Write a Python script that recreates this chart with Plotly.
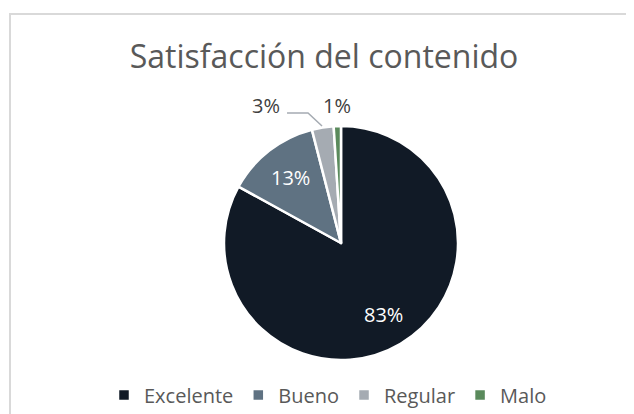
import math
import plotly.graph_objects as go

categories = ["Excelente", "Bueno", "Regular", "Malo"]
values = [83, 13, 3, 1]
colors = ["#111a26", "#5f7282", "#a5abb2", "#5a8a5c"]

W, H = 634, 414
OFF = 8  # page body margin offset
cx, cy, r = 341 - OFF, 243 - OFF, 117

def px(x):
    return (x - OFF) / W

def py(y):
    return 1 - (y - OFF) / H

total = sum(values)
pct = [f"{round(v * 100 / total)}%" for v in values]

fig = go.Figure(go.Pie(
    labels=categories,
    values=values,
    sort=False,
    direction="clockwise",
    rotation=0,
    marker=dict(colors=colors, line=dict(color="#ffffff", width=2.5)),
    textinfo="none",
    domain=dict(x=[(cx - r) / W, (cx + r) / W], y=[1 - (cy + r) / H, 1 - (cy - r) / H]),
    automargin=False,
    showlegend=True,
))

annotations = []
# inside labels for the two big slices, placed at the slice mid-angle
cum = 0
for i, v in enumerate(values):
    mid = (cum + v / 2) / total * 2 * math.pi
    cum += v
    if i < 2:
        lx = cx + OFF + 0.71 * r * math.sin(mid)
        ly = cy + OFF - 0.71 * r * math.cos(mid)
        annotations.append(dict(text=pct[i], x=px(lx), y=py(ly), xref="paper", yref="paper",
                                showarrow=False, xanchor="center", yanchor="middle",
                                font=dict(family="Open Sans", size=20, color="#ffffff")))

# outside labels for the small slices
outside = [(2, 266, 106), (3, 337, 106)]
for idx, x, y in outside:
    annotations.append(dict(text=pct[idx], x=px(x), y=py(y), xref="paper", yref="paper",
                            showarrow=False, xanchor="center", yanchor="middle",
                            font=dict(family="Open Sans", size=20, color="#404040")))

leader = "M {:.4f},{:.4f} L {:.4f},{:.4f} L {:.4f},{:.4f}".format(
    px(287), py(113), px(308), py(113), px(322), py(126))

fig.update_layout(
    width=W, height=H,
    margin=dict(l=0, r=0, t=0, b=0),
    paper_bgcolor="#ffffff",
    plot_bgcolor="#ffffff",
    font=dict(family="Open Sans", color="#595959"),
    title=dict(text="Satisfacción del contenido", x=px(324), xanchor="center",
               y=py(57), yanchor="middle", yref="container",
               font=dict(family="Open Sans", size=32, color="#595959")),
    legend=dict(orientation="h", x=px(328), xanchor="center", y=py(395), yanchor="middle",
                font=dict(family="Open Sans", size=20, color="#595959"),
                itemwidth=30, traceorder="normal"),
    annotations=annotations,
    shapes=[
        dict(type="rect", xref="paper", yref="paper", x0=px(10), x1=1.2, y0=-0.2, y1=py(14),
             line=dict(color="#d9d9d9", width=2), fillcolor="rgba(0,0,0,0)", layer="below"),
        dict(type="path", xref="paper", yref="paper", path=leader,
             line=dict(color="#a5abb2", width=1.5)),
    ],
)

fig.write_html("out.html")
